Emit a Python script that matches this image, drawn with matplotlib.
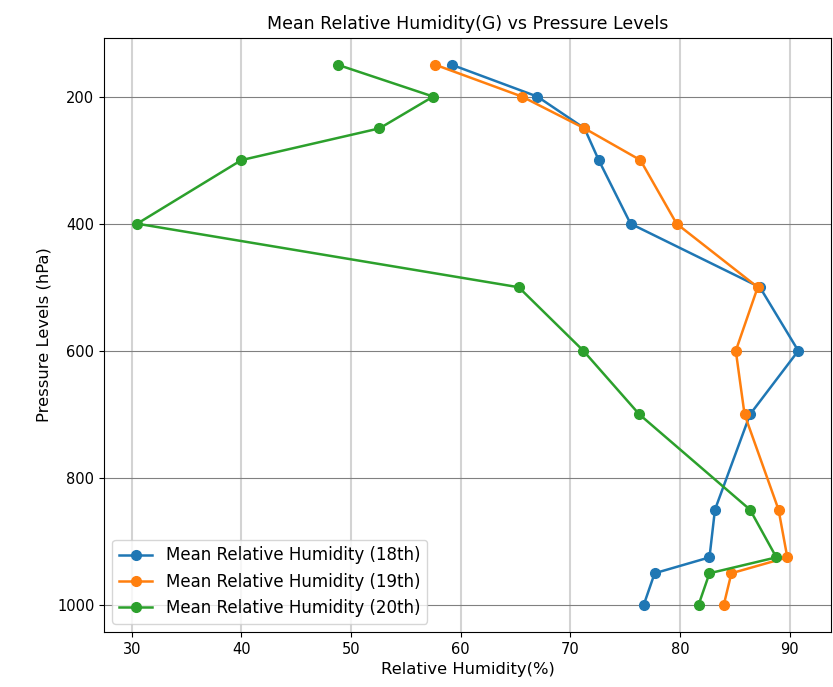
import matplotlib
matplotlib.use("Agg")
import matplotlib.pyplot as plt

# pressure levels (hPa)
levels = [150, 200, 250, 300, 400, 500, 600, 700, 850, 925, 950, 1000]

# mean relative humidity (%) per day
rh_18 = [59.2, 67.0, 71.3, 72.6, 75.5, 87.3, 90.8, 86.4, 83.2, 82.7, 77.7, 76.7]
rh_19 = [57.7, 65.6, 71.3, 76.4, 79.7, 87.1, 85.1, 85.9, 89.0, 89.8, 84.7, 84.0]
rh_20 = [48.8, 57.5, 52.6, 40.0, 30.5, 65.3, 71.2, 76.3, 86.4, 88.8, 82.7, 81.7]

labels = ["Mean Relative Humidity (18th)", "Mean Relative Humidity (19th)", "Mean Relative Humidity (20th)"]

fig, ax = plt.subplots(figsize=(8.33, 6.87), dpi=100)
fig.subplots_adjust(left=0.125, right=0.998, top=0.945, bottom=0.08)

for rh, lab in zip([rh_18, rh_19, rh_20], labels):
    ax.plot(rh, levels, marker='o', markersize=7, linewidth=1.8, label=lab)

ax.invert_yaxis()
ax.grid(axis='x', color='lightgray', linewidth=1.5)
ax.grid(axis='y', color='gray', linewidth=0.8)
ax.tick_params(labelsize=10.5)

ax.set_title("Mean Relative Humidity(G) vs Pressure Levels", fontsize=12.5)
ax.set_xlabel("Relative Humidity(%)", fontsize=11.8)
ax.set_ylabel("Pressure Levels (hPa)", fontsize=11.8)
ax.legend(loc='lower left', fontsize=12)

fig.savefig("out.png")
